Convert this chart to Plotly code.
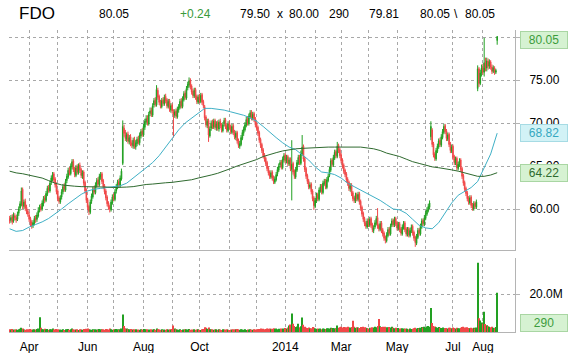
import pandas as pd
import plotly.graph_objects as go
from plotly.subplots import make_subplots

symbol = "FDO"
start_date = "2013-03-11"

opens = [
58.9,58.7,59.1,58.6,59.2,59.0,58.8,59.5,60.1,60.5,
62.3,60.3,60.9,60.2,59.8,59.3,58.9,58.5,58.1,58.3,
59.0,58.8,59.2,59.9,60.3,60.0,60.6,61.3,61.0,61.7,
62.5,62.1,63.1,63.5,64.1,63.5,62.9,62.1,61.3,60.8,
61.4,62.0,62.7,62.2,63.3,63.7,64.6,64.1,64.9,65.6,
64.7,63.9,64.9,64.2,65.1,64.6,63.8,64.3,63.1,62.2,
61.1,60.3,59.6,60.9,61.4,62.4,61.9,62.7,63.4,62.8,
63.7,64.1,63.3,62.7,62.1,61.4,60.7,60.3,59.9,60.7,
61.5,61.1,62.1,62.5,63.2,62.7,63.5,65.3,69.4,68.9,
68.1,68.7,67.8,68.4,67.7,67.3,68.1,67.2,67.6,68.2,
67.7,68.5,69.1,68.6,69.5,70.1,70.6,69.9,71.1,71.5,
70.9,72.1,72.7,72.1,73.8,73.1,72.5,71.9,72.7,72.2,
73.1,72.7,71.9,72.6,71.5,72.1,71.3,70.9,71.4,70.7,
71.5,71.8,72.6,71.9,72.7,73.5,72.9,74.1,74.4,75.0,
74.3,73.7,73.1,73.9,73.1,72.4,73.1,72.5,73.3,72.5,
71.9,70.7,69.7,70.3,68.5,69.4,70.1,69.5,70.3,69.4,
70.0,69.3,70.2,69.8,69.1,69.9,70.4,69.7,69.1,70.0,
69.6,68.9,69.7,69.0,68.3,68.9,68.0,67.3,67.5,68.2,
68.8,69.2,69.7,70.5,69.9,70.7,71.3,70.5,71.1,70.5,
69.9,69.5,68.9,68.1,67.5,66.9,66.3,65.9,65.4,64.8,
64.3,63.7,64.3,63.7,63.1,63.4,64.1,64.5,65.1,65.5,
64.8,65.7,66.3,65.5,66.1,65.2,65.8,64.6,65.3,64.4,
63.7,64.5,65.3,66.1,65.3,66.4,67.3,65.9,64.7,63.9,
63.3,62.5,62.9,62.1,61.3,60.3,60.9,61.7,61.1,62.1,
62.7,61.9,62.9,63.3,62.5,63.3,63.9,64.5,65.7,65.1,
65.9,66.7,66.1,67.4,66.9,66.3,65.7,65.1,64.5,64.1,
63.5,63.1,62.3,62.8,61.9,61.3,60.9,61.7,61.1,61.8,
60.9,60.2,59.5,58.9,58.4,57.9,58.7,58.1,58.9,58.2,
57.5,57.9,58.3,59.0,58.1,57.6,58.4,57.6,57.2,56.7,
56.3,56.9,57.7,57.1,58.1,58.7,58.1,58.9,58.4,57.7,
58.3,57.7,57.1,57.8,58.4,57.7,57.0,57.7,56.9,57.4,
58.0,57.3,56.7,56.0,56.7,57.6,57.1,57.9,58.7,58.2,
58.9,59.4,59.8,60.2,68.4,69.2,67.6,66.4,65.8,66.7,
67.2,68.0,67.4,68.3,68.9,69.7,69.1,68.1,68.7,67.6,
66.7,67.3,66.1,65.3,65.9,64.7,65.1,65.7,64.7,63.9,
63.1,62.4,61.9,61.3,60.7,61.4,60.5,60.0,60.7,60.2,
74.0,76.3,74.6,75.8,76.4,75.9,77.0,76.4,77.2,76.6,
77.1,76.5,76.0,76.4,75.9,79.6]

highs = [
59.2,59.3,59.4,59.6,59.5,59.3,59.7,60.3,60.9,62.5,
62.5,61.1,61.2,60.5,60.0,59.6,59.1,58.7,58.7,59.2,
59.3,59.6,60.2,60.5,60.6,61.0,61.5,61.6,62.1,62.7,
62.8,63.3,63.9,64.3,64.3,63.7,63.1,62.3,61.5,61.6,
62.3,62.9,63.0,63.5,64.1,64.8,64.9,65.3,65.8,65.8,
64.9,65.1,65.2,65.3,65.4,64.8,64.5,64.5,63.3,62.4,
61.3,60.5,61.1,61.8,62.6,62.7,63.1,63.6,63.7,64.1,
64.3,64.3,63.5,62.9,62.3,61.6,60.9,60.5,61.1,61.7,
61.8,62.3,62.9,63.4,63.5,63.9,64.7,70.3,69.8,69.2,
68.9,69.0,68.6,68.7,68.0,68.3,68.4,68.0,68.4,68.5,
68.9,69.3,69.4,69.9,70.5,70.9,70.9,71.3,71.8,71.8,
72.3,72.9,73.0,74.4,74.1,73.3,72.7,72.9,73.0,73.3,
73.4,72.9,72.8,72.8,72.3,72.3,71.6,71.6,71.7,71.9,
72.2,72.8,72.9,73.1,73.7,73.8,74.3,74.8,75.3,75.2,
74.5,74.0,74.1,74.1,73.3,73.3,73.4,73.5,73.5,72.7,
72.1,70.9,70.5,70.5,69.6,70.3,70.4,70.5,70.5,70.2,
70.3,70.4,70.5,70.0,70.1,70.6,70.6,69.9,70.2,70.3,
69.8,69.9,69.9,69.2,69.1,69.1,68.2,67.9,68.6,69.2,
69.6,70.1,70.7,70.8,71.1,71.5,71.5,71.3,71.3,70.7,
70.1,69.7,69.1,68.3,67.7,67.1,66.5,66.1,65.6,65.0,
64.5,64.5,64.5,63.9,63.8,64.3,64.9,65.3,65.7,65.7,
66.1,66.5,66.5,66.3,66.3,66.0,66.0,68.0,65.5,64.6,
64.9,65.7,66.3,66.3,66.8,68.6,67.5,66.1,64.9,64.1,
63.5,63.1,63.1,62.3,61.5,61.3,61.9,61.9,62.5,62.9,
62.9,63.3,63.5,63.5,63.7,64.1,64.9,65.9,65.9,66.3,
66.9,66.9,67.8,67.6,67.1,66.5,65.9,65.3,64.7,64.3,
63.7,63.3,63.0,63.0,62.1,61.5,61.9,61.9,62.0,62.0,
61.1,60.4,59.7,59.1,58.6,58.9,58.9,59.1,59.1,58.4,
58.1,58.7,59.2,60.1,58.3,58.6,58.6,57.8,57.4,56.9,
57.3,57.9,57.9,58.3,58.9,58.9,59.1,59.1,58.6,58.5,
58.5,57.9,58.2,58.6,58.6,57.9,57.9,57.9,57.8,58.2,
58.2,57.5,56.9,57.1,57.8,57.8,58.3,58.9,58.9,59.3,
59.8,60.2,60.6,61.0,70.2,69.4,67.8,66.6,67.1,67.6,
68.2,68.3,68.7,69.3,69.9,69.9,69.3,68.9,68.9,67.8,
67.5,67.5,66.3,66.1,66.1,65.5,65.9,65.9,64.9,64.1,
63.3,62.6,62.1,61.5,61.6,61.6,60.7,60.9,60.9,61.1,
76.7,76.5,76.2,76.8,76.9,79.9,77.6,77.6,77.5,77.4,
77.3,76.8,76.7,76.6,76.3,80.1]

lows = [
58.3,58.4,58.2,58.4,58.7,58.4,58.6,59.2,59.8,60.3,
60.0,60.0,59.8,59.4,59.1,58.5,58.0,57.7,57.8,58.1,
58.4,58.5,59.0,59.6,59.7,59.8,60.3,60.7,60.8,61.5,
61.9,61.9,62.8,63.2,63.1,62.5,61.7,60.9,60.6,60.6,
61.1,61.7,62.0,62.0,63.0,63.5,63.9,63.9,64.6,64.3,
63.7,63.7,64.0,64.0,64.2,63.6,63.5,62.7,61.8,60.7,
59.9,59.3,59.4,60.6,61.2,61.7,61.7,62.5,62.6,62.6,
63.4,62.9,62.3,61.7,61.0,60.3,59.9,59.6,59.7,60.5,
60.9,60.9,61.8,62.3,62.5,62.5,63.3,65.1,68.4,67.9,
67.8,67.6,67.5,67.3,67.1,67.0,67.0,66.9,67.3,67.5,
67.4,68.2,68.4,68.4,69.2,69.8,69.7,69.7,70.8,70.7,
70.7,71.8,71.9,71.9,72.7,72.1,71.7,71.7,72.0,72.0,
72.3,71.7,71.7,71.3,71.2,71.1,68.3,70.6,70.5,70.5,
71.2,71.6,71.7,71.7,72.5,72.7,72.7,73.8,74.1,73.9,
73.3,72.9,72.9,72.7,72.2,72.2,72.3,72.3,72.1,71.7,
70.3,69.5,69.4,67.8,68.3,69.1,69.3,69.3,69.2,69.1,
69.1,69.0,69.4,68.9,68.9,69.6,69.3,68.9,68.9,69.2,
68.7,68.7,68.6,68.1,68.0,67.6,67.1,67.0,67.3,68.0,
68.5,69.0,69.5,69.7,69.7,70.5,70.3,70.3,70.1,69.5,
69.1,68.5,67.7,67.1,66.5,65.9,65.5,65.0,64.4,63.9,
63.5,63.5,63.3,62.9,62.9,63.2,63.8,64.3,64.8,64.6,
64.6,65.4,65.3,65.3,65.0,65.0,64.4,61.0,64.0,63.5,
63.5,64.3,65.1,65.1,65.1,66.2,65.5,64.3,63.5,62.9,
62.3,62.3,61.7,60.9,59.9,60.1,60.7,60.9,60.9,61.9,
61.7,61.7,62.7,62.3,62.3,63.1,63.7,64.3,64.9,64.9,
65.7,65.9,65.9,66.5,65.9,65.3,64.7,64.1,63.7,63.1,
62.7,62.1,62.0,61.5,60.9,60.7,60.7,60.9,60.9,60.5,
59.8,59.1,58.5,58.0,57.7,57.7,57.9,57.9,57.8,57.3,
57.2,57.7,58.1,57.7,57.4,57.4,57.2,56.8,56.3,56.0,
56.1,56.7,56.9,56.9,57.9,57.9,57.9,58.0,57.5,57.5,
57.3,56.9,56.9,57.6,57.3,56.8,56.8,56.7,56.7,57.2,
56.9,56.3,55.6,55.8,56.5,56.9,56.9,57.7,58.0,58.0,
58.7,59.2,59.6,60.0,68.0,67.2,66.0,65.6,65.6,66.5,
67.0,67.2,67.2,68.1,68.7,68.7,67.9,67.9,67.2,66.5,
66.5,65.7,65.1,65.1,64.5,64.5,64.9,64.3,63.5,62.7,
62.0,61.5,60.9,60.5,60.5,60.1,59.8,59.8,60.0,60.0,
73.7,74.2,74.4,75.4,75.6,75.4,76.0,76.0,76.2,76.3,
76.2,75.7,75.8,75.6,75.7,79.1]

closes = [
58.6,59.0,58.5,59.3,59.0,58.7,59.4,60.0,60.6,62.1,
60.4,60.8,60.1,59.7,59.4,58.8,58.3,58.0,58.4,58.9,
58.7,59.3,59.8,60.2,60.0,60.7,61.2,61.0,61.8,62.4,
62.2,63.0,63.6,64.0,63.4,62.8,62.0,61.2,60.9,61.3,
62.0,62.6,62.3,63.2,63.8,64.5,64.2,65.0,65.5,64.6,
64.0,64.8,64.3,65.0,64.5,63.9,64.2,63.0,62.1,61.0,
60.2,59.7,60.8,61.5,62.3,62.0,62.8,63.3,62.9,63.8,
64.0,63.2,62.6,62.0,61.3,60.6,60.2,60.0,60.8,61.4,
61.2,62.0,62.6,63.1,62.8,63.6,64.4,69.6,68.8,68.2,
68.6,67.9,68.3,67.6,67.4,68.0,67.3,67.7,68.1,67.8,
68.6,69.0,68.7,69.6,70.2,70.5,70.0,71.0,71.4,71.0,
72.0,72.6,72.2,73.9,73.0,72.4,72.0,72.6,72.3,73.0,
72.6,72.0,72.5,71.6,72.0,71.4,71.0,71.3,70.8,71.6,
71.9,72.5,72.0,72.8,73.4,73.0,74.0,74.5,74.9,74.2,
73.6,73.2,73.8,73.0,72.5,73.0,72.6,73.2,72.4,72.0,
70.6,69.8,70.2,68.6,69.3,70.0,69.6,70.2,69.5,69.9,
69.4,70.1,69.7,69.2,69.8,70.3,69.6,69.2,69.9,69.5,
69.0,69.6,68.9,68.4,68.8,67.9,67.4,67.6,68.3,68.9,
69.3,69.8,70.4,70.0,70.8,71.2,70.6,71.0,70.4,69.8,
69.4,68.8,68.0,67.4,66.8,66.2,65.8,65.3,64.7,64.2,
63.8,64.2,63.6,63.2,63.5,64.0,64.6,65.0,65.4,64.9,
65.8,66.2,65.6,66.0,65.3,65.7,64.7,65.2,64.3,63.8,
64.6,65.4,66.0,65.4,66.5,67.2,65.8,64.6,63.8,63.2,
62.6,62.8,62.0,61.2,60.4,61.0,61.6,61.2,62.2,62.6,
62.0,63.0,63.2,62.6,63.4,63.8,64.6,65.6,65.2,66.0,
66.6,66.2,67.3,66.8,66.2,65.6,65.0,64.4,64.0,63.4,
63.0,62.4,62.7,61.8,61.2,61.0,61.6,61.2,61.7,60.8,
60.1,59.4,58.8,58.3,58.0,58.6,58.2,58.8,58.1,57.6,
57.8,58.4,58.9,58.0,57.7,58.3,57.5,57.1,56.6,56.4,
57.0,57.6,57.2,58.0,58.6,58.2,58.8,58.3,57.8,58.2,
57.6,57.2,57.9,58.3,57.6,57.1,57.6,57.0,57.5,57.9,
57.2,56.6,56.1,56.8,57.5,57.2,58.0,58.6,58.3,59.0,
59.5,59.9,60.3,60.7,69.6,67.5,66.3,65.9,66.8,67.3,
67.9,67.5,68.4,69.0,69.6,69.0,68.2,68.6,67.5,66.8,
67.2,66.0,65.4,65.8,64.8,65.2,65.6,64.6,63.8,63.0,
62.3,61.8,61.2,60.8,61.3,60.4,60.1,60.6,60.3,60.8,
76.3,74.6,75.8,76.4,75.9,77.0,76.4,77.2,76.6,77.1,
76.5,76.0,76.4,75.9,76.1,80.05]

volumes_m = [
1.4,1.2,1.6,1.3,1.1,1.5,1.2,1.4,1.7,2.3,
1.9,1.3,1.2,1.5,1.1,1.4,1.6,1.3,1.2,1.5,
1.3,1.6,1.8,7.8,2.2,1.5,1.4,1.7,1.3,1.6,
1.2,1.5,1.4,1.8,1.3,1.2,1.6,1.4,1.1,1.3,
1.2,1.5,1.1,1.4,1.3,1.6,1.2,1.5,1.8,1.4,
1.3,1.2,1.5,1.1,1.4,1.3,1.2,1.6,1.5,1.7,
1.9,1.4,1.3,1.2,1.5,1.1,1.4,1.3,1.2,1.6,
1.4,1.3,1.5,1.2,1.6,1.4,1.3,1.8,1.5,1.2,
1.4,1.3,1.6,1.5,1.2,1.4,1.9,9.2,3.1,2.0,
1.8,1.5,1.4,1.6,1.3,1.2,1.5,1.4,1.1,1.3,
1.2,1.4,1.3,1.6,1.5,1.2,1.4,1.3,1.1,1.5,
1.3,1.4,1.2,1.8,1.5,1.3,1.2,1.4,1.1,1.3,
1.2,1.5,1.3,1.4,1.2,1.6,3.4,1.8,1.5,1.3,
1.2,1.4,1.1,1.3,1.2,1.5,1.4,1.3,1.6,1.2,
1.3,1.1,1.4,1.2,1.3,1.5,1.2,1.1,1.4,1.6,
2.5,2.2,1.7,2.4,1.5,1.3,1.4,1.2,1.3,1.5,
1.2,1.4,1.3,1.1,1.5,1.2,1.3,1.4,1.2,1.1,
1.3,1.2,1.4,1.5,1.3,1.6,1.4,1.2,1.5,1.3,
1.2,1.4,1.1,1.3,1.2,1.5,1.3,1.2,1.4,1.3,
1.5,1.4,1.6,1.8,1.5,1.7,1.4,1.6,1.9,1.7,
1.8,1.5,1.7,2.0,1.6,1.8,1.5,1.7,1.6,1.9,
1.8,1.6,2.1,1.8,2.4,3.4,4.0,9.7,4.4,3.1,
2.6,2.9,4.4,2.5,3.0,7.6,3.8,2.7,2.3,2.1,
2.4,1.8,2.0,2.6,2.2,1.9,1.7,1.8,1.6,1.9,
1.5,1.8,1.7,1.6,2.0,1.8,1.9,2.2,1.8,2.1,
2.0,1.9,3.4,2.2,2.5,2.8,2.4,2.6,2.2,2.5,
2.7,2.3,2.4,2.6,5.9,2.8,2.2,2.5,2.4,2.1,
2.6,2.3,2.8,2.5,2.2,2.0,1.9,2.3,2.1,2.5,
2.4,2.7,2.5,3.2,6.9,3.0,2.6,2.8,2.4,2.7,
2.5,2.3,2.6,2.4,2.8,2.2,2.0,2.3,1.8,2.1,
1.9,1.7,2.0,1.8,1.6,1.9,1.7,1.5,1.8,1.6,
1.7,2.0,2.2,1.9,2.1,1.8,2.3,2.6,2.4,2.8,
2.5,2.9,3.1,2.7,12.6,4.8,3.2,2.9,2.5,2.3,
2.6,2.2,2.1,2.4,2.0,1.8,2.1,1.9,2.3,2.2,
2.0,2.4,2.1,1.9,2.2,1.8,2.0,2.3,2.6,2.8,
2.4,2.2,2.5,2.1,1.9,2.3,2.0,2.2,1.8,2.4,
36.5,7.3,6.0,5.0,4.5,10.7,4.2,3.6,3.0,2.8,
2.5,2.7,2.3,2.2,2.6,20.6]

# moving averages, one value per 5 trading days
ma50 = [
57.7,57.4,57.5,57.9,58.2,58.5,58.9,59.4,60.0,60.6,
61.2,61.7,62.1,62.3,62.4,62.5,62.6,62.7,63.0,63.6,
64.2,64.9,65.4,66.2,67.2,68.3,69.2,70.0,70.6,71.2,
71.7,71.7,71.6,71.5,71.3,71.1,70.9,70.6,70.2,69.6,
68.9,68.3,67.7,67.2,66.9,66.3,65.7,64.9,64.3,64.2,
64.0,63.6,63.0,62.6,62.2,61.8,61.4,61.0,60.5,60.0,
59.9,59.5,58.8,58.1,57.8,57.7,58.4,59.6,60.7,61.6,
62.1,62.5,63.2,64.8,66.4,68.82]
ma200 = [
64.4,64.2,64.1,63.95,63.8,63.6,63.3,63.0,62.8,62.7,
62.65,62.6,62.6,62.6,62.55,62.55,62.5,62.5,62.55,62.6,
62.75,62.85,62.9,63.0,63.05,63.1,63.2,63.3,63.4,63.6,
63.75,63.95,64.15,64.4,64.7,65.0,65.25,65.5,65.75,66.1,
66.35,66.55,66.75,66.9,67.0,67.05,67.1,67.1,67.15,67.2,
67.2,67.2,67.2,67.2,67.2,67.1,67.0,66.8,66.5,66.3,
66.1,65.8,65.5,65.3,65.1,64.9,64.8,64.7,64.55,64.4,
64.2,64.0,63.8,63.8,63.95,64.22]

tick_labels = ["Apr", "", "Jun", "", "Aug", "", "Oct", "", "",
               "2014", "", "Mar", "", "May", "", "Jul", "Aug"]
price_ticks = [60, 65, 70, 75, 80]
price_tick_text = ["60.00", "65.00", "70.00", "75.00", ""]
vol_tick = 20.0
header = {"last": "80.05", "change": "+0.24", "bid": "79.50", "ask": "80.00",
          "size": "290", "prev": "79.81", "hi": "80.05", "lo": "80.05"}
last_volume = "290"

# ---------------------------------------------------------------
dates = pd.bdate_range(start_date, periods=len(closes))
ma_dates = dates[::5]
volumes = [v * 1e6 for v in volumes_m]

month_starts = pd.date_range("2013-04-01", periods=len(tick_labels), freq="MS")
tickvals = [dates[dates >= m][0] for m in month_starts]

GREEN = "#22a022"
RED = "#f04848"
vol_colors = [GREEN if c >= o else RED for o, c in zip(opens, closes)]

W, H = 569, 353
L, R, T, B = 9, 54, 30, 21
PW, PH = W - L - R, H - T - B

def px(xp):
    return (xp - L) / PW

def py(yp):
    return (H - B - yp) / PH

fig = make_subplots(rows=2, cols=1, shared_xaxes=True, vertical_spacing=0.0,
                    row_heights=[0.75, 0.25])

fig.add_trace(go.Candlestick(
    x=dates, open=opens, high=highs, low=lows, close=closes,
    increasing=dict(line=dict(color=GREEN, width=1), fillcolor=GREEN),
    decreasing=dict(line=dict(color=RED, width=1), fillcolor=RED),
    whiskerwidth=0, hoverinfo="skip", showlegend=False), row=1, col=1)

fig.add_trace(go.Scatter(x=ma_dates, y=ma50, mode="lines",
                         line=dict(color="#3fb0c6", width=1),
                         hoverinfo="skip", showlegend=False), row=1, col=1)
fig.add_trace(go.Scatter(x=ma_dates, y=ma200, mode="lines",
                         line=dict(color="#2f6a2f", width=1),
                         hoverinfo="skip", showlegend=False), row=1, col=1)

fig.add_trace(go.Bar(x=dates, y=volumes, marker=dict(color=vol_colors, line=dict(width=0)),
                     hoverinfo="skip", showlegend=False), row=2, col=1)

FONT = "Arial, Liberation Sans, sans-serif"
GRID = "#a8a8a8"
AXLINE = "#b4b4b4"

xcommon = dict(
    type="date", automargin=False,
    rangebreaks=[dict(bounds=["sat", "mon"])],
    range=["2013-03-08 12:00", "2014-09-04 17:00"],
    tickmode="array", tickvals=tickvals, ticktext=tick_labels,
    showgrid=True, gridcolor=GRID, griddash="3px,3px", gridwidth=1,
    showline=True, linecolor=AXLINE, linewidth=1,
    ticks="", zeroline=False, rangeslider=dict(visible=False),
    tickfont=dict(family=FONT, size=12, color="#000"),
)
fig.update_xaxes(**xcommon)
fig.update_xaxes(showticklabels=False, row=1, col=1)
fig.update_xaxes(showticklabels=True, ticklabelstandoff=4, row=2, col=1)

price_lo = 60 - (250 - 209) / 8.6
price_hi = 60 + (209 - 30) / 8.6
fig.update_yaxes(
    side="right", range=[price_lo, price_hi], automargin=False,
    tickmode="array", tickvals=price_ticks, ticktext=price_tick_text,
    showgrid=True, gridcolor=GRID, griddash="3px,3px",
    showline=True, linecolor=AXLINE, ticks="outside", ticklen=4, tickcolor=AXLINE,
    ticklabelstandoff=7, zeroline=False,
    tickfont=dict(family=FONT, size=12, color="#000"),
    domain=[py(250), py(30)], row=1, col=1)

vol_hi = (332 - 258) * vol_tick / (332 - 294) * 1e6
fig.update_yaxes(
    side="right", range=[0, vol_hi], automargin=False,
    tickmode="array", tickvals=[vol_tick * 1e6], ticktext=[f"{vol_tick:.1f}M"],
    showgrid=True, gridcolor=GRID, griddash="3px,3px",
    showline=True, linecolor=AXLINE, ticks="outside", ticklen=4, tickcolor=AXLINE,
    ticklabelstandoff=7, zeroline=False,
    tickfont=dict(family=FONT, size=12, color="#000"),
    domain=[0, py(258)], row=2, col=1)

ann = []
def head(text, xp, size=12, color="#000"):
    ann.append(dict(text=text, x=px(xp), y=py(14), xref="paper", yref="paper",
                    xanchor="left", yanchor="middle", showarrow=False,
                    font=dict(family=FONT, size=size, color=color)))

head(symbol, 17, size=17)
head(header["last"], 97)
head(header["change"], 178, color="#3a9a3a")
head(header["bid"], 238)
head("x", 275)
head(header["ask"], 287)
head(header["size"], 327)
head(header["prev"], 367)
head(header["hi"], 418)
head("\\", 452)
head(header["lo"], 463)

def box(text, yval, yref, color, bg, border, yshift=0):
    ann.append(dict(text=text, x=px(544), y=yval, xref="paper", yref=yref,
                    xanchor="center", yanchor="middle", showarrow=False,
                    width=46, height=16, borderpad=0, borderwidth=1,
                    bgcolor=bg, bordercolor=border, yshift=yshift,
                    font=dict(family=FONT, size=12, color=color)))

box(f"{closes[-1]:.2f}", 80.05, "y", "#3c9c3c", "#d6f2d2", "#a9d6a3", yshift=-3)
box(f"{ma50[-1]:.2f}", ma50[-1], "y", "#36a8c0", "#d2f2f6", "#a6dbe4")
box(f"{ma200[-1]:.2f}", ma200[-1], "y", "#2e6b2e", "#d6f2d2", "#a9d6a3")
box(last_volume, py(323), "paper", "#3c9c3c", "#d6f2d2", "#a9d6a3")

fig.update_layout(
    width=W, height=H,
    margin=dict(l=L, r=R, t=T, b=B, autoexpand=False),
    paper_bgcolor="white", plot_bgcolor="white",
    showlegend=False, hovermode=False, bargap=0.2,
    annotations=ann,
    font=dict(family=FONT, size=12, color="#000"),
)

fig.write_html("out.html")
